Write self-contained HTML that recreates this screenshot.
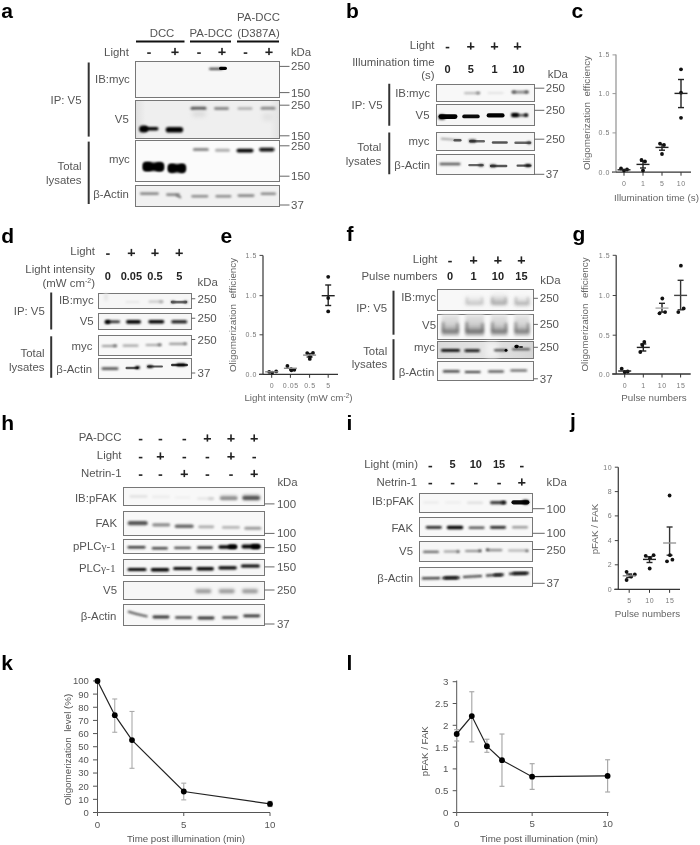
<!DOCTYPE html><html><head><meta charset="utf-8"><style>html,body{margin:0;padding:0;background:#fff;}svg{display:block;filter:blur(0.35px);font-family:"Liberation Sans",sans-serif;}</style></head><body>
<svg width="700" height="845" viewBox="0 0 700 845">
<defs>
<filter id="b3" x="-100%" y="-400%" width="300%" height="900%"><feGaussianBlur stdDeviation="0.3"/></filter>
<filter id="b5" x="-100%" y="-400%" width="300%" height="900%"><feGaussianBlur stdDeviation="0.5"/></filter>
<filter id="b6" x="-100%" y="-400%" width="300%" height="900%"><feGaussianBlur stdDeviation="0.6"/></filter>
<filter id="b8" x="-100%" y="-400%" width="300%" height="900%"><feGaussianBlur stdDeviation="0.8"/></filter>
<filter id="b10" x="-100%" y="-400%" width="300%" height="900%"><feGaussianBlur stdDeviation="1.0"/></filter>
<filter id="b12" x="-100%" y="-400%" width="300%" height="900%"><feGaussianBlur stdDeviation="1.2"/></filter>
<filter id="b15" x="-100%" y="-400%" width="300%" height="900%"><feGaussianBlur stdDeviation="1.5"/></filter>
<filter id="b20" x="-100%" y="-400%" width="300%" height="900%"><feGaussianBlur stdDeviation="2.0"/></filter>
<filter id="b25" x="-100%" y="-400%" width="300%" height="900%"><feGaussianBlur stdDeviation="2.5"/></filter>
<linearGradient id="gv5" x1="0" y1="0" x2="1" y2="0"><stop offset="0" stop-color="#e0e0e0"/><stop offset="0.07" stop-color="#efefef"/><stop offset="0.93" stop-color="#efefef"/><stop offset="1" stop-color="#e2e2e2"/></linearGradient>
<linearGradient id="sm1" x1="0" y1="0" x2="0" y2="1"><stop offset="0" stop-color="#ddd" stop-opacity="0"/><stop offset="0.5" stop-color="#c8c8c8" stop-opacity="0.6"/><stop offset="0.85" stop-color="#999"/><stop offset="1" stop-color="#bbb" stop-opacity="0.3"/></linearGradient>
<linearGradient id="sm2" x1="0" y1="0" x2="0" y2="1"><stop offset="0" stop-color="#e4e4e4"/><stop offset="0.45" stop-color="#cfcfcf"/><stop offset="0.8" stop-color="#8a8a8a"/><stop offset="1" stop-color="#b0b0b0" stop-opacity="0.6"/></linearGradient>
<linearGradient id="gmyc" x1="0" y1="0" x2="1" y2="0"><stop offset="0" stop-color="#dadada"/><stop offset="0.5" stop-color="#e4e4e4"/><stop offset="1" stop-color="#d6d6d6"/></linearGradient>
</defs>
<rect width="700" height="845" fill="#fff"/>
<text x="1.2" y="17.5" text-anchor="start" font-size="21" font-weight="bold" fill="#000">a</text>
<text x="162" y="37" text-anchor="middle" font-size="11.4" fill="#555">DCC</text>
<text x="211" y="37" text-anchor="middle" font-size="11.4" fill="#555">PA-DCC</text>
<text x="258.5" y="21" text-anchor="middle" font-size="11.4" fill="#555">PA-DCC</text>
<text x="258.5" y="37" text-anchor="middle" font-size="11.4" fill="#555">(D387A)</text>
<line x1="136" y1="41.5" x2="184.5" y2="41.5" stroke="#111" stroke-width="2"/>
<line x1="190" y1="41.5" x2="231" y2="41.5" stroke="#111" stroke-width="2"/>
<line x1="237" y1="41.5" x2="279" y2="41.5" stroke="#111" stroke-width="2"/>
<text x="128.8" y="55.7" text-anchor="end" font-size="11.4" fill="#555">Light</text>
<rect x="147.2" y="52.3" width="3.6" height="1.6" fill="#222"/>
<rect x="171.4" y="51.5" width="7.2" height="1.6" fill="#222"/>
<rect x="174.2" y="47.9" width="1.6" height="7.2" fill="#222"/>
<rect x="197.2" y="52.3" width="3.6" height="1.6" fill="#222"/>
<rect x="218.4" y="51.5" width="7.2" height="1.6" fill="#222"/>
<rect x="221.2" y="47.9" width="1.6" height="7.2" fill="#222"/>
<rect x="243.7" y="52.3" width="3.6" height="1.6" fill="#222"/>
<rect x="265.4" y="51.5" width="7.2" height="1.6" fill="#222"/>
<rect x="268.2" y="47.9" width="1.6" height="7.2" fill="#222"/>
<text x="290.9" y="56.3" text-anchor="start" font-size="11.4" fill="#555">kDa</text>
<rect x="135.5" y="61.5" width="144.0" height="36.0" fill="#f7f7f7" stroke="#777" stroke-width="1"/>
<rect x="135.5" y="100.5" width="144.0" height="38.0" fill="url(#gv5)" stroke="#777" stroke-width="1"/>
<rect x="135.5" y="140.5" width="144.0" height="41.0" fill="#fbfbfb" stroke="#777" stroke-width="1"/>
<rect x="135.5" y="185.5" width="144.0" height="21.0" fill="#f1f1f1" stroke="#777" stroke-width="1"/>
<rect x="209.00" y="67.70" width="14" height="2.2" rx="1.10" fill="#444" filter="url(#b8)"/>
<rect x="219.00" y="66.70" width="8" height="3.2" rx="1.60" fill="#000" filter="url(#b6)"/>
<rect x="143.50" y="126.90" width="15" height="3.6" rx="1.80" fill="#000" filter="url(#b8)"/>
<rect x="139.10" y="125.50" width="9" height="7" rx="3.50" fill="#000" filter="url(#b8)"/>
<rect x="165.65" y="127.00" width="17.5" height="5.6" rx="2.80" fill="#000" filter="url(#b8)"/>
<rect x="190.50" y="106.70" width="16" height="3.2" rx="1.60" fill="#555" filter="url(#b10)"/>
<rect x="214.00" y="107.10" width="15" height="2.8" rx="1.40" fill="#888" filter="url(#b10)"/>
<rect x="237.50" y="107.20" width="15" height="2.6" rx="1.30" fill="#aaa" filter="url(#b10)"/>
<rect x="260.50" y="106.80" width="15" height="3" rx="1.50" fill="#888" filter="url(#b10)"/>
<rect x="192.00" y="111.00" width="14" height="6" rx="3.00" fill="#ddd" filter="url(#b20)"/>
<rect x="262.00" y="113.00" width="12" height="8" rx="4.00" fill="#e2e2e2" filter="url(#b20)"/>
<rect x="143.05" y="162.40" width="20.5" height="8.6" rx="3.00" fill="#000" filter="url(#b10)"/>
<rect x="143.00" y="161.90" width="9" height="9.2" rx="3.00" fill="#000" filter="url(#b10)"/>
<rect x="155.25" y="162.50" width="8.5" height="8.8" rx="3.00" fill="#000" filter="url(#b10)"/>
<rect x="168.05" y="164.10" width="17.5" height="8.4" rx="3.00" fill="#000" filter="url(#b10)"/>
<rect x="168.25" y="163.90" width="7.5" height="8.6" rx="3.00" fill="#000" filter="url(#b10)"/>
<rect x="178.50" y="164.10" width="7" height="8.6" rx="3.00" fill="#000" filter="url(#b10)"/>
<rect x="192.90" y="148.10" width="16" height="3" rx="1.50" fill="#8a8a8a" filter="url(#b10)"/>
<rect x="215.00" y="148.70" width="15" height="3" rx="1.50" fill="#aaa" filter="url(#b10)"/>
<rect x="236.50" y="148.70" width="17" height="3.8" rx="1.90" fill="#050505" filter="url(#b8)"/>
<rect x="259.05" y="147.80" width="15.5" height="3.6" rx="1.80" fill="#0a0a0a" filter="url(#b8)"/>
<rect x="139.90" y="192.30" width="19" height="2.6" rx="1.30" fill="#8a8a8a" filter="url(#b10)"/>
<rect x="166.00" y="193.30" width="14" height="2.6" rx="1.30" fill="#8a8a8a" filter="url(#b10)"/>
<rect x="191.30" y="195.00" width="17" height="2.6" rx="1.30" fill="#8a8a8a" filter="url(#b10)"/>
<rect x="215.40" y="195.00" width="16" height="2.6" rx="1.30" fill="#8a8a8a" filter="url(#b10)"/>
<rect x="237.50" y="194.30" width="17" height="2.6" rx="1.30" fill="#888" filter="url(#b10)"/>
<rect x="260.55" y="192.50" width="15.5" height="2.6" rx="1.30" fill="#888" filter="url(#b10)"/>
<path d="M176 195 L181 197.6" stroke="#666" stroke-width="1.8" filter="url(#b8)"/>
<line x1="279.5" y1="66.4" x2="289.5" y2="66.4" stroke="#666" stroke-width="1"/>
<text x="291.0" y="70.4" text-anchor="start" font-size="11.5" fill="#555">250</text>
<line x1="279.5" y1="92.6" x2="289.5" y2="92.6" stroke="#666" stroke-width="1"/>
<text x="291.0" y="96.6" text-anchor="start" font-size="11.5" fill="#555">150</text>
<line x1="279.5" y1="105.2" x2="289.5" y2="105.2" stroke="#666" stroke-width="1"/>
<text x="291.0" y="109.2" text-anchor="start" font-size="11.5" fill="#555">250</text>
<line x1="279.5" y1="135.8" x2="289.5" y2="135.8" stroke="#666" stroke-width="1"/>
<text x="291.0" y="139.8" text-anchor="start" font-size="11.5" fill="#555">150</text>
<line x1="279.5" y1="145.8" x2="289.5" y2="145.8" stroke="#666" stroke-width="1"/>
<text x="291.0" y="149.8" text-anchor="start" font-size="11.5" fill="#555">250</text>
<line x1="279.5" y1="176.2" x2="289.5" y2="176.2" stroke="#666" stroke-width="1"/>
<text x="291.0" y="180.2" text-anchor="start" font-size="11.5" fill="#555">150</text>
<line x1="279.5" y1="205" x2="289.5" y2="205" stroke="#666" stroke-width="1"/>
<text x="291.0" y="209" text-anchor="start" font-size="11.5" fill="#555">37</text>
<text x="129.8" y="82.7" text-anchor="end" font-size="11.4" fill="#555">IB:myc</text>
<text x="128.8" y="122.9" text-anchor="end" font-size="11.4" fill="#555">V5</text>
<text x="129.8" y="163" text-anchor="end" font-size="11.4" fill="#555">myc</text>
<text x="128.8" y="198" text-anchor="end" font-size="11.4" fill="#555">&#946;-Actin</text>
<text x="81.5" y="104" text-anchor="end" font-size="11.4" fill="#555">IP: V5</text>
<text x="81.5" y="170.4" text-anchor="end" font-size="11.4" fill="#555">Total</text>
<text x="81.5" y="183.9" text-anchor="end" font-size="11.4" fill="#555">lysates</text>
<line x1="88.7" y1="62.5" x2="88.7" y2="136.6" stroke="#333" stroke-width="2"/>
<line x1="88.7" y1="141.6" x2="88.7" y2="204" stroke="#333" stroke-width="2"/>
<text x="346" y="18.2" text-anchor="start" font-size="21" font-weight="bold" fill="#000">b</text>
<text x="434.5" y="48.75" text-anchor="end" font-size="11.4" fill="#555">Light</text>
<rect x="445.7" y="46.8" width="3.6" height="1.6" fill="#222"/>
<rect x="467.15" y="46.0" width="7.2" height="1.6" fill="#222"/>
<rect x="469.95" y="42.4" width="1.6" height="7.2" fill="#222"/>
<rect x="490.9" y="46.0" width="7.2" height="1.6" fill="#222"/>
<rect x="493.7" y="42.4" width="1.6" height="7.2" fill="#222"/>
<rect x="513.9" y="46.0" width="7.2" height="1.6" fill="#222"/>
<rect x="516.7" y="42.4" width="1.6" height="7.2" fill="#222"/>
<text x="434.5" y="66.25" text-anchor="end" font-size="11.4" fill="#555">Illumination time</text>
<text x="434.5" y="78.5" text-anchor="end" font-size="11.4" fill="#555">(s)</text>
<text x="447.5" y="72.5" text-anchor="middle" font-size="11" font-weight="bold" fill="#222">0</text>
<text x="470.75" y="72.5" text-anchor="middle" font-size="11" font-weight="bold" fill="#222">5</text>
<text x="494.5" y="72.5" text-anchor="middle" font-size="11" font-weight="bold" fill="#222">1</text>
<text x="518.5" y="72.5" text-anchor="middle" font-size="11" font-weight="bold" fill="#222">10</text>
<text x="547.7" y="77.7" text-anchor="start" font-size="11.4" fill="#555">kDa</text>
<rect x="436.5" y="84.5" width="98.0" height="17.0" fill="#f8f8f8" stroke="#777" stroke-width="1"/>
<rect x="436.5" y="104.5" width="98.0" height="21.0" fill="#f6f6f6" stroke="#777" stroke-width="1"/>
<rect x="436.5" y="132.5" width="98.0" height="18.0" fill="#f6f6f6" stroke="#777" stroke-width="1"/>
<rect x="436.5" y="154.5" width="98.0" height="20.0" fill="#f8f8f8" stroke="#777" stroke-width="1"/>
<rect x="464.00" y="91.90" width="16" height="2.4" rx="1.20" fill="#bbb" filter="url(#b12)"/>
<rect x="476.00" y="91.80" width="4" height="2.4" rx="1.20" fill="#888" filter="url(#b10)"/>
<rect x="487.60" y="92.00" width="16" height="2" rx="1.00" fill="#e2e2e2" filter="url(#b12)"/>
<rect x="511.50" y="90.80" width="17" height="2.6" rx="1.30" fill="#888" filter="url(#b10)"/>
<rect x="512.00" y="90.80" width="4" height="2.4" rx="1.20" fill="#555" filter="url(#b10)"/>
<rect x="524.50" y="90.70" width="4" height="2.6" rx="1.30" fill="#555" filter="url(#b10)"/>
<rect x="438.50" y="114.30" width="19" height="4.6" rx="2.30" fill="#000" filter="url(#b9)"/>
<rect x="438.50" y="114.40" width="7" height="5.2" rx="2.60" fill="#000" filter="url(#b8)"/>
<rect x="462.25" y="114.50" width="17.5" height="3.8" rx="1.90" fill="#0a0a0a" filter="url(#b9)"/>
<rect x="486.60" y="113.30" width="18" height="4.2" rx="2.10" fill="#000" filter="url(#b9)"/>
<rect x="512.00" y="114.00" width="16" height="2.4" rx="1.20" fill="#555" filter="url(#b10)"/>
<rect x="511.00" y="113.10" width="8" height="3.8" rx="1.90" fill="#000" filter="url(#b8)"/>
<rect x="524.00" y="113.50" width="4" height="3" rx="1.50" fill="#000" filter="url(#b8)"/>
<path d="M438 107.5 L532 107.5" stroke="#ddd" stroke-width="2" filter="url(#b10)"/>
<path d="M441 138.6 L461 140.2" stroke="#999" stroke-width="1.6" fill="none" filter="url(#b8)"/>
<rect x="453.50" y="139.00" width="8" height="2.4" rx="1.20" fill="#555" filter="url(#b9)"/>
<rect x="469.00" y="140.10" width="16" height="2.4" rx="1.20" fill="#666" filter="url(#b9)"/>
<rect x="469.00" y="139.60" width="7" height="2.8" rx="1.40" fill="#222" filter="url(#b8)"/>
<rect x="491.80" y="141.20" width="16" height="2.6" rx="1.30" fill="#555" filter="url(#b9)"/>
<rect x="514.30" y="141.50" width="17" height="2.6" rx="1.30" fill="#666" filter="url(#b9)"/>
<rect x="527.00" y="141.40" width="4" height="2.8" rx="1.40" fill="#333" filter="url(#b8)"/>
<rect x="439.50" y="162.80" width="21" height="2.4" rx="1.20" fill="#555" filter="url(#b10)"/>
<rect x="468.25" y="164.10" width="15.5" height="2.2" rx="1.10" fill="#666" filter="url(#b9)"/>
<rect x="478.50" y="164.10" width="5" height="2.4" rx="1.20" fill="#333" filter="url(#b8)"/>
<rect x="489.85" y="164.80" width="17.5" height="2.4" rx="1.20" fill="#555" filter="url(#b9)"/>
<rect x="490.00" y="164.40" width="6" height="2.8" rx="1.40" fill="#222" filter="url(#b8)"/>
<rect x="516.50" y="164.60" width="15" height="2.2" rx="1.10" fill="#555" filter="url(#b9)"/>
<rect x="525.00" y="164.10" width="6" height="2.8" rx="1.40" fill="#111" filter="url(#b8)"/>
<line x1="534.3" y1="88.2" x2="544.3" y2="88.2" stroke="#666" stroke-width="1"/>
<text x="545.8" y="92.2" text-anchor="start" font-size="11.5" fill="#555">250</text>
<line x1="534.3" y1="110.3" x2="544.3" y2="110.3" stroke="#666" stroke-width="1"/>
<text x="545.8" y="114.3" text-anchor="start" font-size="11.5" fill="#555">250</text>
<line x1="534.3" y1="139.2" x2="544.3" y2="139.2" stroke="#666" stroke-width="1"/>
<text x="545.8" y="143.2" text-anchor="start" font-size="11.5" fill="#555">250</text>
<line x1="534.3" y1="174.3" x2="544.3" y2="174.3" stroke="#666" stroke-width="1"/>
<text x="545.8" y="178.3" text-anchor="start" font-size="11.5" fill="#555">37</text>
<text x="430" y="97" text-anchor="end" font-size="11.4" fill="#555">IB:myc</text>
<text x="429.5" y="119.25" text-anchor="end" font-size="11.4" fill="#555">V5</text>
<text x="382.5" y="108.75" text-anchor="end" font-size="11.4" fill="#555">IP: V5</text>
<text x="429.5" y="145" text-anchor="end" font-size="11.4" fill="#555">myc</text>
<text x="430" y="168.75" text-anchor="end" font-size="11.4" fill="#555">&#946;-Actin</text>
<text x="381.25" y="151.25" text-anchor="end" font-size="11.4" fill="#555">Total</text>
<text x="381.25" y="164.5" text-anchor="end" font-size="11.4" fill="#555">lysates</text>
<line x1="389.25" y1="83.75" x2="389.25" y2="125.75" stroke="#333" stroke-width="2"/>
<line x1="389.25" y1="132.5" x2="389.25" y2="174.25" stroke="#333" stroke-width="2"/>
<text x="571.5" y="17.7" text-anchor="start" font-size="21" font-weight="bold" fill="#000">c</text>
<line x1="616" y1="54.5" x2="616" y2="172.2" stroke="#999" stroke-width="1.3"/>
<line x1="612" y1="172.2" x2="691" y2="172.2" stroke="#333" stroke-width="1.3"/>
<line x1="612.5" y1="54.9" x2="616" y2="54.9" stroke="#999" stroke-width="1"/>
<text x="610" y="57.4" text-anchor="end" font-size="7" fill="#7a7a7a" letter-spacing="0.6">1.5</text>
<line x1="612.5" y1="93.6" x2="616" y2="93.6" stroke="#999" stroke-width="1"/>
<text x="610" y="96.1" text-anchor="end" font-size="7" fill="#7a7a7a" letter-spacing="0.6">1.0</text>
<line x1="612.5" y1="132.9" x2="616" y2="132.9" stroke="#999" stroke-width="1"/>
<text x="610" y="135.4" text-anchor="end" font-size="7" fill="#7a7a7a" letter-spacing="0.6">0.5</text>
<line x1="612.5" y1="172.2" x2="616" y2="172.2" stroke="#999" stroke-width="1"/>
<text x="610" y="174.7" text-anchor="end" font-size="7" fill="#7a7a7a" letter-spacing="0.6">0.0</text>
<line x1="624" y1="172.2" x2="624" y2="175.7" stroke="#333" stroke-width="1"/>
<text x="624.3" y="186.2" text-anchor="middle" font-size="7" fill="#7a7a7a" letter-spacing="0.6">0</text>
<line x1="643" y1="172.2" x2="643" y2="175.7" stroke="#333" stroke-width="1"/>
<text x="643.3" y="186.2" text-anchor="middle" font-size="7" fill="#7a7a7a" letter-spacing="0.6">1</text>
<line x1="662" y1="172.2" x2="662" y2="175.7" stroke="#333" stroke-width="1"/>
<text x="662.3" y="186.2" text-anchor="middle" font-size="7" fill="#7a7a7a" letter-spacing="0.6">5</text>
<line x1="681" y1="172.2" x2="681" y2="175.7" stroke="#333" stroke-width="1"/>
<text x="681.3" y="186.2" text-anchor="middle" font-size="7" fill="#7a7a7a" letter-spacing="0.6">10</text>
<text x="590" y="113" text-anchor="middle" font-size="9.8" fill="#666" transform="rotate(-90 590 113)">Oligomerization&#160;&#160;efficiency</text>
<text x="656.5" y="201" text-anchor="middle" font-size="9.8" fill="#666">Illumination time (s)</text>
<circle cx="621" cy="168.5" r="1.9" fill="#111"/>
<circle cx="624" cy="170.5" r="1.9" fill="#111"/>
<circle cx="627" cy="169.5" r="1.9" fill="#111"/>
<line x1="617.5" y1="169.8" x2="630.5" y2="169.8" stroke="#222" stroke-width="1.4"/>
<line x1="643" y1="161" x2="643" y2="168" stroke="#222" stroke-width="1.4"/>
<line x1="640" y1="161" x2="646" y2="161" stroke="#222" stroke-width="1.4"/>
<line x1="640" y1="168" x2="646" y2="168" stroke="#222" stroke-width="1.4"/>
<circle cx="641.5" cy="160" r="1.9" fill="#111"/>
<circle cx="645" cy="161.5" r="1.9" fill="#111"/>
<circle cx="643" cy="170.5" r="1.9" fill="#111"/>
<line x1="636.5" y1="164.4" x2="649.5" y2="164.4" stroke="#222" stroke-width="1.4"/>
<line x1="662" y1="144.5" x2="662" y2="150.2" stroke="#222" stroke-width="1.4"/>
<line x1="659" y1="144.5" x2="665" y2="144.5" stroke="#222" stroke-width="1.4"/>
<line x1="659" y1="150.2" x2="665" y2="150.2" stroke="#222" stroke-width="1.4"/>
<circle cx="660" cy="143.6" r="1.9" fill="#111"/>
<circle cx="664" cy="145" r="1.9" fill="#111"/>
<circle cx="662" cy="154" r="1.9" fill="#111"/>
<line x1="655.5" y1="147.4" x2="668.5" y2="147.4" stroke="#222" stroke-width="1.4"/>
<line x1="681" y1="79.5" x2="681" y2="107.6" stroke="#222" stroke-width="1.4"/>
<line x1="678" y1="79.5" x2="684" y2="79.5" stroke="#222" stroke-width="1.4"/>
<line x1="678" y1="107.6" x2="684" y2="107.6" stroke="#222" stroke-width="1.4"/>
<circle cx="681" cy="69.3" r="1.9" fill="#111"/>
<circle cx="681" cy="92.7" r="1.9" fill="#111"/>
<circle cx="681" cy="117.8" r="1.9" fill="#111"/>
<line x1="674.5" y1="93.4" x2="687.5" y2="93.4" stroke="#222" stroke-width="1.4"/>
<text x="1.2" y="242.5" text-anchor="start" font-size="21" font-weight="bold" fill="#000">d</text>
<text x="95" y="255.2" text-anchor="end" font-size="11.4" fill="#555">Light</text>
<rect x="106.10000000000001" y="253.3" width="3.6" height="1.6" fill="#222"/>
<rect x="127.80000000000001" y="252.5" width="7.2" height="1.6" fill="#222"/>
<rect x="130.6" y="248.9" width="1.6" height="7.2" fill="#222"/>
<rect x="151.4" y="252.5" width="7.2" height="1.6" fill="#222"/>
<rect x="154.2" y="248.9" width="1.6" height="7.2" fill="#222"/>
<rect x="175.6" y="252.5" width="7.2" height="1.6" fill="#222"/>
<rect x="178.39999999999998" y="248.9" width="1.6" height="7.2" fill="#222"/>
<text x="95" y="272.5" text-anchor="end" font-size="11.4" fill="#555">Light intensity</text>
<text x="95" y="286.6" text-anchor="end" font-size="11.4" fill="#555">(mW cm<tspan font-size="7" dy="-4">-2</tspan><tspan dy="4">)</tspan></text>
<text x="107.9" y="280.2" text-anchor="middle" font-size="11" font-weight="bold" fill="#222">0</text>
<text x="131.4" y="280.2" text-anchor="middle" font-size="11" font-weight="bold" fill="#222">0.05</text>
<text x="155" y="280.2" text-anchor="middle" font-size="11" font-weight="bold" fill="#222">0.5</text>
<text x="179.2" y="280.2" text-anchor="middle" font-size="11" font-weight="bold" fill="#222">5</text>
<text x="197.5" y="285.7" text-anchor="start" font-size="11.4" fill="#555">kDa</text>
<rect x="98.5" y="293.5" width="93.0" height="15.0" fill="#f6f6f6" stroke="#777" stroke-width="1"/>
<rect x="98.5" y="313.5" width="93.0" height="16.0" fill="#f6f6f6" stroke="#777" stroke-width="1"/>
<rect x="98.5" y="335.5" width="93.0" height="20.0" fill="#f8f8f8" stroke="#777" stroke-width="1"/>
<rect x="98.5" y="358.5" width="93.0" height="20.0" fill="#f8f8f8" stroke="#777" stroke-width="1"/>
<rect x="104.00" y="293.00" width="4" height="8" rx="2.00" fill="#e6e6e6" filter="url(#b15)"/>
<rect x="125.50" y="300.90" width="14" height="2.2" rx="1.10" fill="#e6e6e6" filter="url(#b12)"/>
<rect x="148.50" y="300.60" width="15" height="2.2" rx="1.10" fill="#c8c8c8" filter="url(#b10)"/>
<rect x="159.00" y="300.50" width="4" height="2.4" rx="1.20" fill="#aaa" filter="url(#b10)"/>
<rect x="170.75" y="300.80" width="16.5" height="2.6" rx="1.30" fill="#666" filter="url(#b9)"/>
<rect x="171.00" y="300.70" width="4" height="2.6" rx="1.30" fill="#444" filter="url(#b8)"/>
<rect x="183.50" y="300.70" width="4" height="2.6" rx="1.30" fill="#444" filter="url(#b8)"/>
<rect x="106.00" y="320.50" width="14" height="2.6" rx="1.30" fill="#222" filter="url(#b8)"/>
<rect x="104.50" y="319.90" width="6" height="4.2" rx="2.10" fill="#000" filter="url(#b8)"/>
<rect x="126.00" y="319.90" width="15" height="3.8" rx="1.90" fill="#000" filter="url(#b8)"/>
<rect x="148.30" y="320.10" width="16" height="3.4" rx="1.70" fill="#000" filter="url(#b8)"/>
<rect x="171.20" y="320.30" width="16" height="3" rx="1.50" fill="#111" filter="url(#b8)"/>
<rect x="101.70" y="344.90" width="15" height="2.2" rx="1.10" fill="#999" filter="url(#b10)"/>
<rect x="113.00" y="344.60" width="4" height="2.4" rx="1.20" fill="#777" filter="url(#b10)"/>
<rect x="122.60" y="344.60" width="16" height="2.2" rx="1.10" fill="#a4a4a4" filter="url(#b10)"/>
<rect x="145.50" y="343.90" width="16" height="2.2" rx="1.10" fill="#a4a4a4" filter="url(#b10)"/>
<rect x="157.50" y="343.60" width="4" height="2.4" rx="1.20" fill="#777" filter="url(#b10)"/>
<rect x="169.00" y="342.80" width="18" height="2.2" rx="1.10" fill="#999" filter="url(#b10)"/>
<rect x="183.50" y="342.40" width="3" height="2.4" rx="1.20" fill="#777" filter="url(#b10)"/>
<rect x="101.50" y="367.30" width="17" height="2.6" rx="1.30" fill="#555" filter="url(#b10)"/>
<rect x="125.50" y="366.80" width="13" height="2.4" rx="1.20" fill="#555" filter="url(#b9)"/>
<rect x="135.00" y="366.10" width="5" height="3" rx="1.50" fill="#000" filter="url(#b8)"/>
<rect x="147.00" y="365.40" width="16" height="2.2" rx="1.10" fill="#555" filter="url(#b9)"/>
<rect x="147.00" y="365.30" width="6" height="2.8" rx="1.40" fill="#111" filter="url(#b8)"/>
<rect x="171.00" y="363.70" width="17" height="2.6" rx="1.30" fill="#333" filter="url(#b9)"/>
<rect x="176.50" y="363.50" width="9" height="2.8" rx="1.40" fill="#000" filter="url(#b8)"/>
<line x1="191.25" y1="298.75" x2="195.25" y2="298.75" stroke="#666" stroke-width="1"/>
<text x="197.5" y="302.75" text-anchor="start" font-size="11.5" fill="#555">250</text>
<line x1="191.25" y1="318.25" x2="195.25" y2="318.25" stroke="#666" stroke-width="1"/>
<text x="197.5" y="322.25" text-anchor="start" font-size="11.5" fill="#555">250</text>
<line x1="191.25" y1="339.5" x2="195.25" y2="339.5" stroke="#666" stroke-width="1"/>
<text x="197.5" y="343.5" text-anchor="start" font-size="11.5" fill="#555">250</text>
<line x1="191.25" y1="373" x2="195.25" y2="373" stroke="#666" stroke-width="1"/>
<text x="197.5" y="377" text-anchor="start" font-size="11.5" fill="#555">37</text>
<text x="93.7" y="304" text-anchor="end" font-size="11.4" fill="#555">IB:myc</text>
<text x="93.7" y="325.3" text-anchor="end" font-size="11.4" fill="#555">V5</text>
<text x="44.8" y="314.6" text-anchor="end" font-size="11.4" fill="#555">IP: V5</text>
<text x="92.5" y="350" text-anchor="end" font-size="11.4" fill="#555">myc</text>
<text x="92" y="372.5" text-anchor="end" font-size="11.4" fill="#555">&#946;-Actin</text>
<text x="44.5" y="357" text-anchor="end" font-size="11.4" fill="#555">Total</text>
<text x="44.5" y="370.9" text-anchor="end" font-size="11.4" fill="#555">lysates</text>
<line x1="51.2" y1="292.5" x2="51.2" y2="329.5" stroke="#333" stroke-width="2"/>
<line x1="51.2" y1="336.3" x2="51.2" y2="377.8" stroke="#333" stroke-width="2"/>
<text x="220.5" y="242.9" text-anchor="start" font-size="21" font-weight="bold" fill="#000">e</text>
<line x1="263" y1="255.4" x2="263" y2="374.3" stroke="#444" stroke-width="1.3"/>
<line x1="259" y1="374.3" x2="338" y2="374.3" stroke="#333" stroke-width="1.3"/>
<line x1="259.5" y1="255.4" x2="263" y2="255.4" stroke="#444" stroke-width="1"/>
<text x="257" y="257.9" text-anchor="end" font-size="7" fill="#7a7a7a" letter-spacing="0.6">1.5</text>
<line x1="259.5" y1="295.7" x2="263" y2="295.7" stroke="#444" stroke-width="1"/>
<text x="257" y="298.2" text-anchor="end" font-size="7" fill="#7a7a7a" letter-spacing="0.6">1.0</text>
<line x1="259.5" y1="334.8" x2="263" y2="334.8" stroke="#444" stroke-width="1"/>
<text x="257" y="337.3" text-anchor="end" font-size="7" fill="#7a7a7a" letter-spacing="0.6">0.5</text>
<line x1="259.5" y1="374.3" x2="263" y2="374.3" stroke="#444" stroke-width="1"/>
<text x="257" y="376.8" text-anchor="end" font-size="7" fill="#7a7a7a" letter-spacing="0.6">0.0</text>
<line x1="271.7" y1="374.3" x2="271.7" y2="377.8" stroke="#333" stroke-width="1"/>
<text x="272.0" y="388.3" text-anchor="middle" font-size="7" fill="#7a7a7a" letter-spacing="0.6">0</text>
<line x1="290.4" y1="374.3" x2="290.4" y2="377.8" stroke="#333" stroke-width="1"/>
<text x="290.7" y="388.3" text-anchor="middle" font-size="7" fill="#7a7a7a" letter-spacing="0.6">0.05</text>
<line x1="309.6" y1="374.3" x2="309.6" y2="377.8" stroke="#333" stroke-width="1"/>
<text x="309.90000000000003" y="388.3" text-anchor="middle" font-size="7" fill="#7a7a7a" letter-spacing="0.6">0.5</text>
<line x1="328.2" y1="374.3" x2="328.2" y2="377.8" stroke="#333" stroke-width="1"/>
<text x="328.5" y="388.3" text-anchor="middle" font-size="7" fill="#7a7a7a" letter-spacing="0.6">5</text>
<text x="236" y="315" text-anchor="middle" font-size="9.8" fill="#666" transform="rotate(-90 236 315)">Oligomerization&#160;&#160;efficiency</text>
<text x="298.5" y="401" text-anchor="middle" font-size="9.8" fill="#666">Light intensity (mW cm<tspan font-size="6.5" dy="-3.5">-2</tspan><tspan dy="3.5">)</tspan></text>
<circle cx="269.2" cy="371.8" r="1.9" fill="#111"/>
<circle cx="272.2" cy="372.6" r="1.9" fill="#111"/>
<circle cx="276.2" cy="371.4" r="1.9" fill="#111"/>
<line x1="265.2" y1="371.8" x2="278.2" y2="371.8" stroke="#888" stroke-width="1.4"/>
<circle cx="287.4" cy="366" r="1.9" fill="#111"/>
<circle cx="291.09999999999997" cy="369.2" r="1.9" fill="#111"/>
<circle cx="294.29999999999995" cy="369.8" r="1.9" fill="#111"/>
<circle cx="291.4" cy="370.3" r="1.9" fill="#111"/>
<line x1="283.9" y1="368.3" x2="296.9" y2="368.3" stroke="#888" stroke-width="1.4"/>
<line x1="309.6" y1="353.5" x2="309.6" y2="357" stroke="#222" stroke-width="1.4"/>
<line x1="306.6" y1="353.5" x2="312.6" y2="353.5" stroke="#222" stroke-width="1.4"/>
<line x1="306.6" y1="357" x2="312.6" y2="357" stroke="#222" stroke-width="1.4"/>
<circle cx="307.20000000000005" cy="353.1" r="1.9" fill="#111"/>
<circle cx="313.0" cy="352.9" r="1.9" fill="#111"/>
<circle cx="309.8" cy="358.9" r="1.9" fill="#111"/>
<circle cx="310.1" cy="356.3" r="1.9" fill="#111"/>
<line x1="303.1" y1="355.1" x2="316.1" y2="355.1" stroke="#888" stroke-width="1.4"/>
<line x1="328.2" y1="285" x2="328.2" y2="305.5" stroke="#222" stroke-width="1.4"/>
<line x1="325.2" y1="285" x2="331.2" y2="285" stroke="#222" stroke-width="1.4"/>
<line x1="325.2" y1="305.5" x2="331.2" y2="305.5" stroke="#222" stroke-width="1.4"/>
<circle cx="328.2" cy="276.8" r="1.9" fill="#111"/>
<circle cx="328.2" cy="298" r="1.9" fill="#111"/>
<circle cx="328.2" cy="311.4" r="1.9" fill="#111"/>
<line x1="321.7" y1="295.7" x2="334.7" y2="295.7" stroke="#222" stroke-width="1.4"/>
<text x="346.5" y="241" text-anchor="start" font-size="21" font-weight="bold" fill="#000">f</text>
<text x="437.5" y="263" text-anchor="end" font-size="11.4" fill="#555">Light</text>
<rect x="448.2" y="260.8" width="3.6" height="1.6" fill="#222"/>
<rect x="470.0" y="260.0" width="7.2" height="1.6" fill="#222"/>
<rect x="472.8" y="256.4" width="1.6" height="7.2" fill="#222"/>
<rect x="494.29999999999995" y="260.0" width="7.2" height="1.6" fill="#222"/>
<rect x="497.09999999999997" y="256.4" width="1.6" height="7.2" fill="#222"/>
<rect x="517.8" y="260.0" width="7.2" height="1.6" fill="#222"/>
<rect x="520.6" y="256.4" width="1.6" height="7.2" fill="#222"/>
<text x="437.5" y="280.3" text-anchor="end" font-size="11.4" fill="#555">Pulse numbers</text>
<text x="450" y="280.3" text-anchor="middle" font-size="11" font-weight="bold" fill="#222">0</text>
<text x="473.6" y="280.3" text-anchor="middle" font-size="11" font-weight="bold" fill="#222">1</text>
<text x="497.9" y="280.3" text-anchor="middle" font-size="11" font-weight="bold" fill="#222">10</text>
<text x="521.4" y="280.3" text-anchor="middle" font-size="11" font-weight="bold" fill="#222">15</text>
<text x="540.3" y="283.5" text-anchor="start" font-size="11.4" fill="#555">kDa</text>
<rect x="437.5" y="289.5" width="96.0" height="21.0" fill="#f8f8f8" stroke="#777" stroke-width="1"/>
<rect x="437.5" y="314.5" width="96.0" height="25.0" fill="#f8f8f8" stroke="#777" stroke-width="1"/>
<rect x="437.5" y="341.5" width="96.0" height="17.0" fill="url(#gmyc)" stroke="#777" stroke-width="1"/>
<rect x="437.5" y="361.5" width="96.0" height="19.0" fill="#f8f8f8" stroke="#777" stroke-width="1"/>
<rect x="465.5" y="294.5" width="18.0" height="10.5" fill="url(#sm1)" filter="url(#b20)" opacity="0.55"/>
<rect x="491" y="291.5" width="16" height="13.5" fill="url(#sm1)" filter="url(#b20)" opacity="0.85"/>
<rect x="514.5" y="294.5" width="15.0" height="11.5" fill="url(#sm1)" filter="url(#b20)" opacity="0.7"/>
<path d="M467.0 297 L467.0 303.5 L482.0 303.5 L482.0 297" stroke="#777" stroke-width="1.6" fill="none" filter="url(#b15)" opacity="0.35"/>
<path d="M492.5 297 L492.5 303.5 L505.5 303.5 L505.5 297" stroke="#777" stroke-width="1.6" fill="none" filter="url(#b15)" opacity="0.6"/>
<path d="M516.0 297 L516.0 303.5 L528.0 303.5 L528.0 297" stroke="#777" stroke-width="1.6" fill="none" filter="url(#b15)" opacity="0.5"/>
<rect x="441.7" y="314.5" width="17.30000000000001" height="21.5" fill="url(#sm2)" filter="url(#b15)" opacity="0.9"/>
<path d="M443.2 322 L443.2 331.5 L457.5 331.5 L457.5 323" stroke="#555" stroke-width="2" fill="none" filter="url(#b15)" opacity="0.63"/>
<rect x="465.3" y="314.5" width="18.69999999999999" height="21.5" fill="url(#sm2)" filter="url(#b15)" opacity="1"/>
<path d="M466.8 322 L466.8 331.5 L482.5 331.5 L482.5 323" stroke="#555" stroke-width="2" fill="none" filter="url(#b15)" opacity="0.7"/>
<rect x="491" y="314.5" width="16.399999999999977" height="21.5" fill="url(#sm2)" filter="url(#b15)" opacity="0.9"/>
<path d="M492.5 322 L492.5 331.5 L505.9 331.5 L505.9 323" stroke="#555" stroke-width="2" fill="none" filter="url(#b15)" opacity="0.63"/>
<rect x="514.3" y="314.5" width="15.300000000000068" height="21.5" fill="url(#sm2)" filter="url(#b15)" opacity="0.85"/>
<path d="M515.8 322 L515.8 331.5 L528.1 331.5 L528.1 323" stroke="#555" stroke-width="2" fill="none" filter="url(#b15)" opacity="0.595"/>
<rect x="486" y="342.5" width="12" height="15" fill="#f0f0f0" filter="url(#b20)"/>
<rect x="441.00" y="349.00" width="19" height="2.8" rx="1.40" fill="#000" filter="url(#b8)"/>
<rect x="464.45" y="349.30" width="15.5" height="2.6" rx="1.30" fill="#111" filter="url(#b8)"/>
<rect x="494.00" y="349.30" width="13" height="2" rx="1.00" fill="#333" filter="url(#b8)"/>
<rect x="504.50" y="348.80" width="3" height="3" rx="1.50" fill="#000" filter="url(#b6)"/>
<rect x="512.00" y="348.30" width="18" height="2" rx="1.00" fill="#444" filter="url(#b8)"/>
<rect x="514.35" y="344.75" width="4.5" height="3.5" rx="1.75" fill="#000" filter="url(#b7)"/>
<rect x="519.00" y="346.00" width="4" height="2" rx="1.00" fill="#333" filter="url(#b7)"/>
<rect x="442.80" y="370.30" width="17" height="2.2" rx="1.10" fill="#333" filter="url(#b8)"/>
<rect x="464.70" y="370.90" width="16" height="2" rx="1.00" fill="#333" filter="url(#b8)"/>
<rect x="488.00" y="370.40" width="16" height="2" rx="1.00" fill="#3a3a3a" filter="url(#b8)"/>
<rect x="510.20" y="369.50" width="17" height="2" rx="1.00" fill="#555" filter="url(#b8)"/>
<line x1="533.4" y1="298.3" x2="537.9" y2="298.3" stroke="#666" stroke-width="1"/>
<text x="539.8" y="302.3" text-anchor="start" font-size="11.5" fill="#555">250</text>
<line x1="533.4" y1="324.4" x2="537.9" y2="324.4" stroke="#666" stroke-width="1"/>
<text x="539.8" y="328.4" text-anchor="start" font-size="11.5" fill="#555">250</text>
<line x1="533.4" y1="347.3" x2="537.9" y2="347.3" stroke="#666" stroke-width="1"/>
<text x="539.8" y="351.3" text-anchor="start" font-size="11.5" fill="#555">250</text>
<line x1="533.4" y1="378.8" x2="537.9" y2="378.8" stroke="#666" stroke-width="1"/>
<text x="539.8" y="382.8" text-anchor="start" font-size="11.5" fill="#555">37</text>
<text x="436" y="300.8" text-anchor="end" font-size="11.4" fill="#555">IB:myc</text>
<text x="436" y="329" text-anchor="end" font-size="11.4" fill="#555">V5</text>
<text x="387.2" y="312.4" text-anchor="end" font-size="11.4" fill="#555">IP: V5</text>
<text x="435" y="351" text-anchor="end" font-size="11.4" fill="#555">myc</text>
<text x="387.2" y="355" text-anchor="end" font-size="11.4" fill="#555">Total</text>
<text x="387.2" y="368.4" text-anchor="end" font-size="11.4" fill="#555">lysates</text>
<text x="434.3" y="376.3" text-anchor="end" font-size="11.4" fill="#555">&#946;-Actin</text>
<line x1="393.5" y1="290.7" x2="393.5" y2="334.7" stroke="#333" stroke-width="2"/>
<line x1="393.5" y1="339.2" x2="393.5" y2="380" stroke="#333" stroke-width="2"/>
<text x="572.5" y="241" text-anchor="start" font-size="21" font-weight="bold" fill="#000">g</text>
<line x1="616.2" y1="255.3" x2="616.2" y2="374" stroke="#444" stroke-width="1.3"/>
<line x1="612.2" y1="374" x2="690.7" y2="374" stroke="#333" stroke-width="1.3"/>
<line x1="612.7" y1="255.3" x2="616.2" y2="255.3" stroke="#444" stroke-width="1"/>
<text x="610.2" y="257.8" text-anchor="end" font-size="7" fill="#7a7a7a" letter-spacing="0.6">1.5</text>
<line x1="612.7" y1="295.5" x2="616.2" y2="295.5" stroke="#444" stroke-width="1"/>
<text x="610.2" y="298.0" text-anchor="end" font-size="7" fill="#7a7a7a" letter-spacing="0.6">1.0</text>
<line x1="612.7" y1="335.2" x2="616.2" y2="335.2" stroke="#444" stroke-width="1"/>
<text x="610.2" y="337.7" text-anchor="end" font-size="7" fill="#7a7a7a" letter-spacing="0.6">0.5</text>
<line x1="612.7" y1="374" x2="616.2" y2="374" stroke="#444" stroke-width="1"/>
<text x="610.2" y="376.5" text-anchor="end" font-size="7" fill="#7a7a7a" letter-spacing="0.6">0.0</text>
<line x1="624.7" y1="374" x2="624.7" y2="377.5" stroke="#333" stroke-width="1"/>
<text x="625.0" y="388" text-anchor="middle" font-size="7" fill="#7a7a7a" letter-spacing="0.6">0</text>
<line x1="643.3" y1="374" x2="643.3" y2="377.5" stroke="#333" stroke-width="1"/>
<text x="643.5999999999999" y="388" text-anchor="middle" font-size="7" fill="#7a7a7a" letter-spacing="0.6">1</text>
<line x1="662" y1="374" x2="662" y2="377.5" stroke="#333" stroke-width="1"/>
<text x="662.3" y="388" text-anchor="middle" font-size="7" fill="#7a7a7a" letter-spacing="0.6">10</text>
<line x1="680.6" y1="374" x2="680.6" y2="377.5" stroke="#333" stroke-width="1"/>
<text x="680.9" y="388" text-anchor="middle" font-size="7" fill="#7a7a7a" letter-spacing="0.6">15</text>
<text x="588.2" y="314.5" text-anchor="middle" font-size="9.8" fill="#666" transform="rotate(-90 588.2 314.5)">Oligomerization&#160;&#160;efficiency</text>
<text x="654" y="401" text-anchor="middle" font-size="9.8" fill="#666">Pulse numbers</text>
<circle cx="621.7" cy="368.7" r="1.9" fill="#111"/>
<circle cx="624.7" cy="372" r="1.9" fill="#111"/>
<circle cx="627.7" cy="371.5" r="1.9" fill="#111"/>
<line x1="618.2" y1="371" x2="631.2" y2="371" stroke="#222" stroke-width="1.4"/>
<line x1="643.3" y1="344" x2="643.3" y2="351" stroke="#222" stroke-width="1.4"/>
<line x1="640.3" y1="344" x2="646.3" y2="344" stroke="#222" stroke-width="1.4"/>
<line x1="640.3" y1="351" x2="646.3" y2="351" stroke="#222" stroke-width="1.4"/>
<circle cx="644.3" cy="342" r="1.9" fill="#111"/>
<circle cx="642.3" cy="345" r="1.9" fill="#111"/>
<circle cx="640.3" cy="352" r="1.9" fill="#111"/>
<line x1="636.8" y1="347.4" x2="649.8" y2="347.4" stroke="#222" stroke-width="1.4"/>
<line x1="662" y1="303.3" x2="662" y2="312.1" stroke="#222" stroke-width="1.4"/>
<line x1="659" y1="303.3" x2="665" y2="303.3" stroke="#222" stroke-width="1.4"/>
<line x1="659" y1="312.1" x2="665" y2="312.1" stroke="#222" stroke-width="1.4"/>
<circle cx="662.3" cy="298.5" r="1.9" fill="#111"/>
<circle cx="659.5" cy="313.3" r="1.9" fill="#111"/>
<circle cx="665.1" cy="312.1" r="1.9" fill="#111"/>
<line x1="655.5" y1="308.1" x2="668.5" y2="308.1" stroke="#aaa" stroke-width="1.4"/>
<line x1="680.6" y1="280.3" x2="680.6" y2="309.8" stroke="#333" stroke-width="1.4"/>
<line x1="677.6" y1="280.3" x2="683.6" y2="280.3" stroke="#333" stroke-width="1.4"/>
<line x1="677.6" y1="309.8" x2="683.6" y2="309.8" stroke="#333" stroke-width="1.4"/>
<circle cx="680.9" cy="265.7" r="1.9" fill="#111"/>
<circle cx="683.7" cy="308.4" r="1.9" fill="#111"/>
<circle cx="678.3000000000001" cy="312.1" r="1.9" fill="#111"/>
<line x1="674.1" y1="295.4" x2="687.1" y2="295.4" stroke="#444" stroke-width="1.4"/>
<text x="1.2" y="429.5" text-anchor="start" font-size="21" font-weight="bold" fill="#000">h</text>
<text x="121.5" y="440.5" text-anchor="end" font-size="11.4" fill="#555">PA-DCC</text>
<text x="121.5" y="458.75" text-anchor="end" font-size="11.4" fill="#555">Light</text>
<text x="121.5" y="477" text-anchor="end" font-size="11.4" fill="#555">Netrin-1</text>
<rect x="138.79999999999998" y="438.8" width="3.6" height="1.6" fill="#222"/>
<rect x="158.6" y="438.8" width="3.6" height="1.6" fill="#222"/>
<rect x="182.5" y="438.8" width="3.6" height="1.6" fill="#222"/>
<rect x="203.8" y="438.0" width="7.2" height="1.6" fill="#222"/>
<rect x="206.6" y="434.4" width="1.6" height="7.2" fill="#222"/>
<rect x="227.4" y="438.0" width="7.2" height="1.6" fill="#222"/>
<rect x="230.2" y="434.4" width="1.6" height="7.2" fill="#222"/>
<rect x="250.6" y="438.0" width="7.2" height="1.6" fill="#222"/>
<rect x="253.39999999999998" y="434.4" width="1.6" height="7.2" fill="#222"/>
<rect x="138.79999999999998" y="456.8" width="3.6" height="1.6" fill="#222"/>
<rect x="156.8" y="456.0" width="7.2" height="1.6" fill="#222"/>
<rect x="159.6" y="452.4" width="1.6" height="7.2" fill="#222"/>
<rect x="182.5" y="456.8" width="3.6" height="1.6" fill="#222"/>
<rect x="205.6" y="456.8" width="3.6" height="1.6" fill="#222"/>
<rect x="227.4" y="456.0" width="7.2" height="1.6" fill="#222"/>
<rect x="230.2" y="452.4" width="1.6" height="7.2" fill="#222"/>
<rect x="252.39999999999998" y="456.8" width="3.6" height="1.6" fill="#222"/>
<rect x="138.79999999999998" y="474.3" width="3.6" height="1.6" fill="#222"/>
<rect x="158.6" y="474.3" width="3.6" height="1.6" fill="#222"/>
<rect x="180.70000000000002" y="473.5" width="7.2" height="1.6" fill="#222"/>
<rect x="183.5" y="469.9" width="1.6" height="7.2" fill="#222"/>
<rect x="205.6" y="474.3" width="3.6" height="1.6" fill="#222"/>
<rect x="229.2" y="474.3" width="3.6" height="1.6" fill="#222"/>
<rect x="250.6" y="473.5" width="7.2" height="1.6" fill="#222"/>
<rect x="253.39999999999998" y="469.9" width="1.6" height="7.2" fill="#222"/>
<text x="277.4" y="486.3" text-anchor="start" font-size="11.4" fill="#555">kDa</text>
<rect x="123.5" y="487.5" width="141.0" height="18.0" fill="#f8f8f8" stroke="#777" stroke-width="1"/>
<rect x="123.5" y="511.5" width="141.0" height="24.0" fill="#f8f8f8" stroke="#777" stroke-width="1"/>
<rect x="123.5" y="539.5" width="141.0" height="14.0" fill="#f8f8f8" stroke="#777" stroke-width="1"/>
<rect x="123.5" y="559.5" width="141.0" height="16.0" fill="#f6f6f6" stroke="#777" stroke-width="1"/>
<rect x="123.5" y="581.5" width="141.0" height="18.0" fill="#f6f6f6" stroke="#777" stroke-width="1"/>
<rect x="123.5" y="604.5" width="141.0" height="21.0" fill="#f8f8f8" stroke="#777" stroke-width="1"/>
<rect x="129.50" y="495.10" width="18" height="2.6" rx="1.30" fill="#e2e2e2" filter="url(#b12)"/>
<rect x="152.00" y="495.60" width="18" height="2.6" rx="1.30" fill="#ececec" filter="url(#b12)"/>
<rect x="174.50" y="496.20" width="16" height="2.6" rx="1.30" fill="#f0f0f0" filter="url(#b12)"/>
<rect x="197.00" y="497.30" width="17" height="2.4" rx="1.20" fill="#e6e6e6" filter="url(#b12)"/>
<rect x="208.00" y="497.50" width="6" height="2.2" rx="1.10" fill="#ccc" filter="url(#b10)"/>
<rect x="219.70" y="495.00" width="18" height="5" rx="2.50" fill="#c8c8c8" filter="url(#b15)"/>
<rect x="220.20" y="496.70" width="17" height="3" rx="1.50" fill="#8a8a8a" filter="url(#b10)"/>
<rect x="241.95" y="494.50" width="18.5" height="6" rx="3.00" fill="#aaa" filter="url(#b15)"/>
<rect x="242.70" y="496.40" width="17" height="3.2" rx="1.60" fill="#444" filter="url(#b10)"/>
<rect x="127.70" y="521.10" width="20" height="4.2" rx="2.10" fill="#555" filter="url(#b10)"/>
<rect x="152.20" y="523.20" width="18" height="3.2" rx="1.60" fill="#8a8a8a" filter="url(#b10)"/>
<rect x="174.70" y="524.50" width="19" height="3.6" rx="1.80" fill="#666" filter="url(#b10)"/>
<rect x="198.20" y="525.40" width="16" height="2.8" rx="1.40" fill="#aaa" filter="url(#b10)"/>
<rect x="221.90" y="526.00" width="18" height="2.8" rx="1.40" fill="#b4b4b4" filter="url(#b10)"/>
<rect x="244.30" y="526.70" width="17" height="3" rx="1.50" fill="#999" filter="url(#b10)"/>
<rect x="127.50" y="546.10" width="18" height="2.4" rx="1.20" fill="#333" filter="url(#b8)"/>
<rect x="151.80" y="547.10" width="16" height="2.4" rx="1.20" fill="#444" filter="url(#b8)"/>
<rect x="174.00" y="546.70" width="17" height="2.2" rx="1.10" fill="#4a4a4a" filter="url(#b8)"/>
<rect x="197.00" y="546.30" width="16" height="2.6" rx="1.30" fill="#333" filter="url(#b8)"/>
<rect x="218.35" y="545.20" width="18.5" height="3.6" rx="1.80" fill="#000" filter="url(#b8)"/>
<rect x="228.00" y="544.50" width="9" height="4.2" rx="1.80" fill="#000" filter="url(#b8)"/>
<rect x="241.50" y="544.60" width="19" height="4" rx="2.00" fill="#000" filter="url(#b8)"/>
<rect x="251.00" y="544.30" width="9" height="4.6" rx="1.80" fill="#000" filter="url(#b8)"/>
<rect x="127.50" y="568.00" width="19" height="3" rx="1.50" fill="#000" filter="url(#b8)"/>
<rect x="150.75" y="568.00" width="18.5" height="3.6" rx="1.80" fill="#000" filter="url(#b8)"/>
<rect x="173.10" y="567.10" width="19" height="3" rx="1.50" fill="#000" filter="url(#b8)"/>
<rect x="196.45" y="567.10" width="17.5" height="3.4" rx="1.70" fill="#000" filter="url(#b8)"/>
<rect x="218.35" y="566.20" width="18.5" height="3.2" rx="1.60" fill="#000" filter="url(#b8)"/>
<rect x="240.90" y="564.40" width="19" height="3.2" rx="1.60" fill="#000" filter="url(#b8)"/>
<rect x="194.80" y="588.25" width="17" height="5.5" rx="2.75" fill="#c4c4c4" filter="url(#b15)"/>
<rect x="196.30" y="590.10" width="14" height="2.4" rx="1.20" fill="#9a9a9a" filter="url(#b10)"/>
<rect x="218.20" y="588.25" width="17" height="5.5" rx="2.75" fill="#c4c4c4" filter="url(#b15)"/>
<rect x="219.70" y="590.10" width="14" height="2.4" rx="1.20" fill="#9a9a9a" filter="url(#b10)"/>
<rect x="241.50" y="588.25" width="17" height="5.5" rx="2.75" fill="#c4c4c4" filter="url(#b15)"/>
<rect x="243.00" y="590.10" width="14" height="2.4" rx="1.20" fill="#9a9a9a" filter="url(#b10)"/>
<path d="M128 611.5 Q137 614.5 147.5 616.5" stroke="#555" stroke-width="2.2" fill="none" filter="url(#b8)"/>
<rect x="152.50" y="615.60" width="17" height="2.8" rx="1.40" fill="#333" filter="url(#b8)"/>
<rect x="175.00" y="616.30" width="17" height="2.4" rx="1.20" fill="#444" filter="url(#b8)"/>
<rect x="197.50" y="616.60" width="17" height="2.8" rx="1.40" fill="#333" filter="url(#b8)"/>
<rect x="222.00" y="616.30" width="16" height="2.4" rx="1.20" fill="#444" filter="url(#b8)"/>
<rect x="243.20" y="614.40" width="17" height="2.8" rx="1.40" fill="#333" filter="url(#b8)"/>
<line x1="264.5" y1="503.9" x2="274.5" y2="503.9" stroke="#666" stroke-width="1"/>
<text x="276.9" y="507.9" text-anchor="start" font-size="11.5" fill="#555">100</text>
<line x1="264.5" y1="533.4" x2="274.5" y2="533.4" stroke="#666" stroke-width="1"/>
<text x="276.9" y="537.4" text-anchor="start" font-size="11.5" fill="#555">100</text>
<line x1="264.5" y1="547.6" x2="274.5" y2="547.6" stroke="#666" stroke-width="1"/>
<text x="276.9" y="551.6" text-anchor="start" font-size="11.5" fill="#555">150</text>
<line x1="264.5" y1="566.9" x2="274.5" y2="566.9" stroke="#666" stroke-width="1"/>
<text x="276.9" y="570.9" text-anchor="start" font-size="11.5" fill="#555">150</text>
<line x1="264.5" y1="590" x2="274.5" y2="590" stroke="#666" stroke-width="1"/>
<text x="276.9" y="594" text-anchor="start" font-size="11.5" fill="#555">250</text>
<line x1="264.5" y1="624" x2="274.5" y2="624" stroke="#666" stroke-width="1"/>
<text x="276.9" y="628" text-anchor="start" font-size="11.5" fill="#555">37</text>
<text x="116.75" y="502" text-anchor="end" font-size="11.4" fill="#555">IB:pFAK</text>
<text x="117" y="527" text-anchor="end" font-size="11.4" fill="#555">FAK</text>
<text x="116" y="550" text-anchor="end" font-size="11.4" fill="#555">pPLC<tspan font-family="Liberation Serif">&#947;-1</tspan></text>
<text x="115.6" y="571.6" text-anchor="end" font-size="11.4" fill="#555">PLC<tspan font-family="Liberation Serif">&#947;-1</tspan></text>
<text x="117" y="594.4" text-anchor="end" font-size="11.4" fill="#555">V5</text>
<text x="116.4" y="620" text-anchor="end" font-size="11.4" fill="#555">&#946;-Actin</text>
<text x="346.5" y="430" text-anchor="start" font-size="21" font-weight="bold" fill="#000">i</text>
<text x="418" y="467.6" text-anchor="end" font-size="11.4" fill="#555">Light (min)</text>
<text x="417" y="485.5" text-anchor="end" font-size="11.4" fill="#555">Netrin-1</text>
<rect x="428.5" y="465.8" width="3.6" height="1.6" fill="#222"/>
<text x="452.6" y="467.6" text-anchor="middle" font-size="11" font-weight="bold" fill="#222">5</text>
<text x="475.8" y="467.6" text-anchor="middle" font-size="11" font-weight="bold" fill="#222">10</text>
<text x="499.1" y="467.6" text-anchor="middle" font-size="11" font-weight="bold" fill="#222">15</text>
<rect x="520.0" y="465.8" width="3.6" height="1.6" fill="#222"/>
<rect x="428.5" y="482.8" width="3.6" height="1.6" fill="#222"/>
<rect x="450.8" y="482.8" width="3.6" height="1.6" fill="#222"/>
<rect x="474.0" y="482.8" width="3.6" height="1.6" fill="#222"/>
<rect x="497.3" y="482.8" width="3.6" height="1.6" fill="#222"/>
<rect x="518.1999999999999" y="482.0" width="7.2" height="1.6" fill="#222"/>
<rect x="521.0" y="478.4" width="1.6" height="7.2" fill="#222"/>
<text x="546.5" y="486.2" text-anchor="start" font-size="11.4" fill="#555">kDa</text>
<rect x="419.5" y="493.5" width="113.0" height="19.0" fill="#f8f8f8" stroke="#777" stroke-width="1"/>
<rect x="419.5" y="517.5" width="113.0" height="19.0" fill="#f8f8f8" stroke="#777" stroke-width="1"/>
<rect x="419.5" y="541.5" width="113.0" height="20.0" fill="#f6f6f6" stroke="#777" stroke-width="1"/>
<rect x="419.5" y="567.5" width="113.0" height="19.0" fill="#f8f8f8" stroke="#777" stroke-width="1"/>
<rect x="423.00" y="501.30" width="16" height="2.4" rx="1.20" fill="#ececec" filter="url(#b12)"/>
<rect x="445.00" y="501.30" width="16" height="2.4" rx="1.20" fill="#eeeeee" filter="url(#b12)"/>
<rect x="467.00" y="501.60" width="16" height="2.4" rx="1.20" fill="#e0e0e0" filter="url(#b12)"/>
<rect x="490.00" y="501.00" width="16" height="3.2" rx="1.60" fill="#3a3a3a" filter="url(#b10)"/>
<rect x="501.00" y="501.10" width="5" height="3" rx="1.50" fill="#111" filter="url(#b8)"/>
<rect x="511.40" y="500.20" width="18" height="4.2" rx="2.10" fill="#0a0a0a" filter="url(#b9)"/>
<rect x="522.00" y="499.70" width="7" height="4.8" rx="2.40" fill="#000" filter="url(#b8)"/>
<rect x="425.80" y="525.90" width="16" height="2.8" rx="1.40" fill="#222" filter="url(#b8)"/>
<rect x="446.75" y="525.80" width="16.5" height="3.4" rx="1.70" fill="#000" filter="url(#b8)"/>
<rect x="468.60" y="526.60" width="16" height="2.4" rx="1.20" fill="#555" filter="url(#b8)"/>
<rect x="490.00" y="525.90" width="16" height="2.8" rx="1.40" fill="#222" filter="url(#b8)"/>
<rect x="512.00" y="526.10" width="16" height="2.4" rx="1.20" fill="#999" filter="url(#b10)"/>
<rect x="423.00" y="550.70" width="16" height="2.4" rx="1.20" fill="#666" filter="url(#b10)"/>
<rect x="443.60" y="550.60" width="16" height="2" rx="1.00" fill="#999" filter="url(#b10)"/>
<rect x="456.50" y="550.50" width="3" height="2.2" rx="1.10" fill="#555" filter="url(#b8)"/>
<rect x="465.00" y="549.90" width="16" height="2.2" rx="1.10" fill="#888" filter="url(#b10)"/>
<rect x="478.50" y="549.60" width="3" height="2.4" rx="1.20" fill="#444" filter="url(#b8)"/>
<rect x="486.40" y="549.10" width="16" height="2.2" rx="1.10" fill="#888" filter="url(#b10)"/>
<rect x="486.00" y="548.60" width="3" height="2.4" rx="1.20" fill="#444" filter="url(#b8)"/>
<rect x="508.00" y="549.60" width="20" height="2" rx="1.00" fill="#aaa" filter="url(#b10)"/>
<rect x="525.50" y="549.70" width="3" height="2.2" rx="1.10" fill="#555" filter="url(#b8)"/>
<path d="M422 578.4 L440 578.2 M442 578.2 L460 577.6 M463 577 L482 576 M486 575.6 L504 574.5 M509 573.9 L529 573" stroke="#333" stroke-width="2.2" fill="none" filter="url(#b8)"/>
<rect x="444.00" y="576.60" width="14" height="2.6" rx="1.30" fill="#111" filter="url(#b8)"/>
<rect x="493.50" y="573.80" width="9" height="2.4" rx="1.20" fill="#111" filter="url(#b8)"/>
<rect x="512.50" y="572.10" width="15" height="2.6" rx="1.30" fill="#111" filter="url(#b8)"/>
<line x1="532.7" y1="508.7" x2="544.7" y2="508.7" stroke="#666" stroke-width="1"/>
<text x="546.5" y="512.7" text-anchor="start" font-size="11.5" fill="#555">100</text>
<line x1="532.7" y1="533.3" x2="544.7" y2="533.3" stroke="#666" stroke-width="1"/>
<text x="546.5" y="537.3" text-anchor="start" font-size="11.5" fill="#555">100</text>
<line x1="532.7" y1="549.5" x2="544.7" y2="549.5" stroke="#666" stroke-width="1"/>
<text x="546.5" y="553.5" text-anchor="start" font-size="11.5" fill="#555">250</text>
<line x1="532.7" y1="583.3" x2="544.7" y2="583.3" stroke="#666" stroke-width="1"/>
<text x="546.5" y="587.3" text-anchor="start" font-size="11.5" fill="#555">37</text>
<text x="413.9" y="505.3" text-anchor="end" font-size="11.4" fill="#555">IB:pFAK</text>
<text x="413" y="532" text-anchor="end" font-size="11.4" fill="#555">FAK</text>
<text x="413" y="554.7" text-anchor="end" font-size="11.4" fill="#555">V5</text>
<text x="413" y="581.8" text-anchor="end" font-size="11.4" fill="#555">&#946;-Actin</text>
<text x="570" y="428" text-anchor="start" font-size="21" font-weight="bold" fill="#000">j</text>
<line x1="618.3" y1="467.2" x2="618.3" y2="589.3" stroke="#444" stroke-width="1.3"/>
<line x1="614.3" y1="589.3" x2="680" y2="589.3" stroke="#333" stroke-width="1.3"/>
<line x1="614.8" y1="467.2" x2="618.3" y2="467.2" stroke="#444" stroke-width="1"/>
<text x="612.3" y="469.7" text-anchor="end" font-size="7" fill="#7a7a7a" letter-spacing="0.6">10</text>
<line x1="614.8" y1="491.6" x2="618.3" y2="491.6" stroke="#444" stroke-width="1"/>
<text x="612.3" y="494.1" text-anchor="end" font-size="7" fill="#7a7a7a" letter-spacing="0.6">8</text>
<line x1="614.8" y1="515.9" x2="618.3" y2="515.9" stroke="#444" stroke-width="1"/>
<text x="612.3" y="518.4" text-anchor="end" font-size="7" fill="#7a7a7a" letter-spacing="0.6">6</text>
<line x1="614.8" y1="540.6" x2="618.3" y2="540.6" stroke="#444" stroke-width="1"/>
<text x="612.3" y="543.1" text-anchor="end" font-size="7" fill="#7a7a7a" letter-spacing="0.6">4</text>
<line x1="614.8" y1="564.8" x2="618.3" y2="564.8" stroke="#444" stroke-width="1"/>
<text x="612.3" y="567.3" text-anchor="end" font-size="7" fill="#7a7a7a" letter-spacing="0.6">2</text>
<line x1="614.8" y1="589.3" x2="618.3" y2="589.3" stroke="#444" stroke-width="1"/>
<text x="612.3" y="591.8" text-anchor="end" font-size="7" fill="#7a7a7a" letter-spacing="0.6">0</text>
<line x1="629.2" y1="589.3" x2="629.2" y2="592.8" stroke="#333" stroke-width="1"/>
<text x="629.5" y="603.3" text-anchor="middle" font-size="7" fill="#7a7a7a" letter-spacing="0.6">5</text>
<line x1="649.5" y1="589.3" x2="649.5" y2="592.8" stroke="#333" stroke-width="1"/>
<text x="649.8" y="603.3" text-anchor="middle" font-size="7" fill="#7a7a7a" letter-spacing="0.6">10</text>
<line x1="669.6" y1="589.3" x2="669.6" y2="592.8" stroke="#333" stroke-width="1"/>
<text x="669.9" y="603.3" text-anchor="middle" font-size="7" fill="#7a7a7a" letter-spacing="0.6">15</text>
<text x="598" y="529" text-anchor="middle" font-size="9.8" fill="#666" transform="rotate(-90 598 529)">pFAK / FAK</text>
<text x="647.5" y="617" text-anchor="middle" font-size="9.8" fill="#666">Pulse numbers</text>
<line x1="629.2" y1="574" x2="629.2" y2="577.5" stroke="#222" stroke-width="1.4"/>
<line x1="626.2" y1="574" x2="632.2" y2="574" stroke="#222" stroke-width="1.4"/>
<line x1="626.2" y1="577.5" x2="632.2" y2="577.5" stroke="#222" stroke-width="1.4"/>
<circle cx="626.6" cy="571.8" r="1.9" fill="#111"/>
<circle cx="626.6" cy="580" r="1.9" fill="#111"/>
<circle cx="634.8000000000001" cy="574.4" r="1.9" fill="#111"/>
<circle cx="631.2" cy="576.5" r="1.9" fill="#111"/>
<line x1="622.7" y1="575.8" x2="635.7" y2="575.8" stroke="#888" stroke-width="1.4"/>
<line x1="649.5" y1="556.8" x2="649.5" y2="562.5" stroke="#222" stroke-width="1.4"/>
<line x1="646.5" y1="556.8" x2="652.5" y2="556.8" stroke="#222" stroke-width="1.4"/>
<line x1="646.5" y1="562.5" x2="652.5" y2="562.5" stroke="#222" stroke-width="1.4"/>
<circle cx="645.7" cy="555.8" r="1.9" fill="#111"/>
<circle cx="653.6" cy="555.2" r="1.9" fill="#111"/>
<circle cx="649.7" cy="568.5" r="1.9" fill="#111"/>
<circle cx="650.0" cy="558.2" r="1.9" fill="#111"/>
<line x1="643.0" y1="559.4" x2="656.0" y2="559.4" stroke="#222" stroke-width="1.4"/>
<line x1="669.6" y1="527" x2="669.6" y2="555.2" stroke="#333" stroke-width="1.4"/>
<line x1="666.6" y1="527" x2="672.6" y2="527" stroke="#333" stroke-width="1.4"/>
<line x1="666.6" y1="555.2" x2="672.6" y2="555.2" stroke="#333" stroke-width="1.4"/>
<circle cx="669.6" cy="495.5" r="1.9" fill="#111"/>
<circle cx="670.0" cy="555.2" r="1.9" fill="#111"/>
<circle cx="667.0" cy="561.3" r="1.9" fill="#111"/>
<circle cx="672.4" cy="559.7" r="1.9" fill="#111"/>
<line x1="663.1" y1="543" x2="676.1" y2="543" stroke="#999" stroke-width="1.4"/>
<text x="1.2" y="670" text-anchor="start" font-size="21" font-weight="bold" fill="#000">k</text>
<line x1="97.5" y1="680" x2="97.5" y2="812.5" stroke="#555" stroke-width="1"/>
<line x1="97.5" y1="812.5" x2="270" y2="812.5" stroke="#555" stroke-width="1"/>
<line x1="93.0" y1="812.5" x2="97.5" y2="812.5" stroke="#555" stroke-width="1"/>
<text x="88.9" y="815.9" text-anchor="end" font-size="9.5" fill="#555">0</text>
<line x1="93.0" y1="799.345" x2="97.5" y2="799.345" stroke="#555" stroke-width="1"/>
<text x="88.9" y="802.745" text-anchor="end" font-size="9.5" fill="#555">10</text>
<line x1="93.0" y1="786.19" x2="97.5" y2="786.19" stroke="#555" stroke-width="1"/>
<text x="88.9" y="789.59" text-anchor="end" font-size="9.5" fill="#555">20</text>
<line x1="93.0" y1="773.035" x2="97.5" y2="773.035" stroke="#555" stroke-width="1"/>
<text x="88.9" y="776.435" text-anchor="end" font-size="9.5" fill="#555">30</text>
<line x1="93.0" y1="759.88" x2="97.5" y2="759.88" stroke="#555" stroke-width="1"/>
<text x="88.9" y="763.28" text-anchor="end" font-size="9.5" fill="#555">40</text>
<line x1="93.0" y1="746.725" x2="97.5" y2="746.725" stroke="#555" stroke-width="1"/>
<text x="88.9" y="750.125" text-anchor="end" font-size="9.5" fill="#555">50</text>
<line x1="93.0" y1="733.57" x2="97.5" y2="733.57" stroke="#555" stroke-width="1"/>
<text x="88.9" y="736.97" text-anchor="end" font-size="9.5" fill="#555">60</text>
<line x1="93.0" y1="720.415" x2="97.5" y2="720.415" stroke="#555" stroke-width="1"/>
<text x="88.9" y="723.8149999999999" text-anchor="end" font-size="9.5" fill="#555">70</text>
<line x1="93.0" y1="707.26" x2="97.5" y2="707.26" stroke="#555" stroke-width="1"/>
<text x="88.9" y="710.66" text-anchor="end" font-size="9.5" fill="#555">80</text>
<line x1="93.0" y1="694.105" x2="97.5" y2="694.105" stroke="#555" stroke-width="1"/>
<text x="88.9" y="697.505" text-anchor="end" font-size="9.5" fill="#555">90</text>
<line x1="93.0" y1="680.95" x2="97.5" y2="680.95" stroke="#555" stroke-width="1"/>
<text x="88.9" y="684.35" text-anchor="end" font-size="9.5" fill="#555">100</text>
<line x1="97.5" y1="812.5" x2="97.5" y2="816.0" stroke="#555" stroke-width="1"/>
<text x="97.5" y="827.8" text-anchor="middle" font-size="9.7" fill="#555">0</text>
<line x1="183.75" y1="812.5" x2="183.75" y2="816.0" stroke="#555" stroke-width="1"/>
<text x="183.75" y="827.8" text-anchor="middle" font-size="9.7" fill="#555">5</text>
<line x1="270.0" y1="812.5" x2="270.0" y2="816.0" stroke="#555" stroke-width="1"/>
<text x="270.0" y="827.8" text-anchor="middle" font-size="9.7" fill="#555">10</text>
<text x="70.5" y="749.5" text-anchor="middle" font-size="9.8" fill="#555" transform="rotate(-90 70.5 749.5)">Oligomerization&#160;&#160;level (%)</text>
<text x="186" y="841.6" text-anchor="middle" font-size="9.7" fill="#555">Time post illumination (min)</text>
<line x1="114.75" y1="732.2545" x2="114.75" y2="698.97235" stroke="#aaa" stroke-width="1.1"/>
<line x1="112.25" y1="732.2545" x2="117.25" y2="732.2545" stroke="#aaa" stroke-width="1.1"/>
<line x1="112.25" y1="698.97235" x2="117.25" y2="698.97235" stroke="#aaa" stroke-width="1.1"/>
<line x1="132.0" y1="768.2992" x2="132.0" y2="711.4696" stroke="#aaa" stroke-width="1.1"/>
<line x1="129.5" y1="768.2992" x2="134.5" y2="768.2992" stroke="#aaa" stroke-width="1.1"/>
<line x1="129.5" y1="711.4696" x2="134.5" y2="711.4696" stroke="#aaa" stroke-width="1.1"/>
<line x1="183.75" y1="799.8712" x2="183.75" y2="783.16435" stroke="#aaa" stroke-width="1.1"/>
<line x1="181.25" y1="799.8712" x2="186.25" y2="799.8712" stroke="#aaa" stroke-width="1.1"/>
<line x1="181.25" y1="783.16435" x2="186.25" y2="783.16435" stroke="#aaa" stroke-width="1.1"/>
<line x1="270.0" y1="806.58025" x2="270.0" y2="801.31825" stroke="#aaa" stroke-width="1.1"/>
<line x1="267.5" y1="806.58025" x2="272.5" y2="806.58025" stroke="#aaa" stroke-width="1.1"/>
<line x1="267.5" y1="801.31825" x2="272.5" y2="801.31825" stroke="#aaa" stroke-width="1.1"/>
<polyline points="97.5,681.0 114.8,715.2 132.0,740.1 183.8,791.5 270.0,803.9" fill="none" stroke="#222" stroke-width="1.2"/>
<circle cx="97.5" cy="681.0" r="2.9" fill="#000"/>
<circle cx="114.8" cy="715.2" r="2.9" fill="#000"/>
<circle cx="132.0" cy="740.1" r="2.9" fill="#000"/>
<circle cx="183.8" cy="791.5" r="2.9" fill="#000"/>
<circle cx="270.0" cy="803.9" r="2.9" fill="#000"/>
<text x="346.5" y="669.6" text-anchor="start" font-size="21" font-weight="bold" fill="#000">l</text>
<line x1="456.7" y1="680.5" x2="456.7" y2="812.5" stroke="#555" stroke-width="1"/>
<line x1="456.7" y1="812.5" x2="608.6" y2="812.5" stroke="#555" stroke-width="1"/>
<line x1="452.7" y1="812.5" x2="456.7" y2="812.5" stroke="#555" stroke-width="1"/>
<text x="448.5" y="815.9" text-anchor="end" font-size="9.7" fill="#555">0</text>
<line x1="452.7" y1="790.7" x2="456.7" y2="790.7" stroke="#555" stroke-width="1"/>
<text x="448.5" y="794.1" text-anchor="end" font-size="9.7" fill="#555">0.5</text>
<line x1="452.7" y1="768.9" x2="456.7" y2="768.9" stroke="#555" stroke-width="1"/>
<text x="448.5" y="772.3" text-anchor="end" font-size="9.7" fill="#555">1</text>
<line x1="452.7" y1="747.1" x2="456.7" y2="747.1" stroke="#555" stroke-width="1"/>
<text x="448.5" y="750.5" text-anchor="end" font-size="9.7" fill="#555">1.5</text>
<line x1="452.7" y1="725.3" x2="456.7" y2="725.3" stroke="#555" stroke-width="1"/>
<text x="448.5" y="728.6999999999999" text-anchor="end" font-size="9.7" fill="#555">2</text>
<line x1="452.7" y1="703.5" x2="456.7" y2="703.5" stroke="#555" stroke-width="1"/>
<text x="448.5" y="706.9" text-anchor="end" font-size="9.7" fill="#555">2.5</text>
<line x1="452.7" y1="681.7" x2="456.7" y2="681.7" stroke="#555" stroke-width="1"/>
<text x="448.5" y="685.1" text-anchor="end" font-size="9.7" fill="#555">3</text>
<line x1="456.7" y1="812.5" x2="456.7" y2="816.0" stroke="#555" stroke-width="1"/>
<text x="456.7" y="826.9" text-anchor="middle" font-size="9.7" fill="#555">0</text>
<line x1="532.15" y1="812.5" x2="532.15" y2="816.0" stroke="#555" stroke-width="1"/>
<text x="532.15" y="826.9" text-anchor="middle" font-size="9.7" fill="#555">5</text>
<line x1="607.6" y1="812.5" x2="607.6" y2="816.0" stroke="#555" stroke-width="1"/>
<text x="607.6" y="826.9" text-anchor="middle" font-size="9.7" fill="#555">10</text>
<text x="428.5" y="751.2" text-anchor="middle" font-size="9.7" fill="#555" transform="rotate(-90 428.5 751.2)">pFAK / FAK</text>
<text x="539" y="841.6" text-anchor="middle" font-size="9.7" fill="#555">Time post illumination (min)</text>
<line x1="456.7" y1="740.996" x2="456.7" y2="729.66" stroke="#aaa" stroke-width="1.2"/>
<line x1="454.2" y1="740.996" x2="459.2" y2="740.996" stroke="#aaa" stroke-width="1.2"/>
<line x1="454.2" y1="729.66" x2="459.2" y2="729.66" stroke="#aaa" stroke-width="1.2"/>
<line x1="471.78999999999996" y1="741.8679999999999" x2="471.78999999999996" y2="691.728" stroke="#aaa" stroke-width="1.2"/>
<line x1="469.28999999999996" y1="741.8679999999999" x2="474.28999999999996" y2="741.8679999999999" stroke="#aaa" stroke-width="1.2"/>
<line x1="469.28999999999996" y1="691.728" x2="474.28999999999996" y2="691.728" stroke="#aaa" stroke-width="1.2"/>
<line x1="486.88" y1="752.332" x2="486.88" y2="739.252" stroke="#aaa" stroke-width="1.2"/>
<line x1="484.38" y1="752.332" x2="489.38" y2="752.332" stroke="#aaa" stroke-width="1.2"/>
<line x1="484.38" y1="739.252" x2="489.38" y2="739.252" stroke="#aaa" stroke-width="1.2"/>
<line x1="501.97" y1="786.34" x2="501.97" y2="734.02" stroke="#aaa" stroke-width="1.2"/>
<line x1="499.47" y1="786.34" x2="504.47" y2="786.34" stroke="#aaa" stroke-width="1.2"/>
<line x1="499.47" y1="734.02" x2="504.47" y2="734.02" stroke="#aaa" stroke-width="1.2"/>
<line x1="532.15" y1="789.392" x2="532.15" y2="763.668" stroke="#aaa" stroke-width="1.2"/>
<line x1="529.65" y1="789.392" x2="534.65" y2="789.392" stroke="#aaa" stroke-width="1.2"/>
<line x1="529.65" y1="763.668" x2="534.65" y2="763.668" stroke="#aaa" stroke-width="1.2"/>
<line x1="607.6" y1="792.008" x2="607.6" y2="759.744" stroke="#aaa" stroke-width="1.2"/>
<line x1="605.1" y1="792.008" x2="610.1" y2="792.008" stroke="#aaa" stroke-width="1.2"/>
<line x1="605.1" y1="759.744" x2="610.1" y2="759.744" stroke="#aaa" stroke-width="1.2"/>
<polyline points="456.7,734.0 471.8,716.1 486.9,746.2 502.0,760.2 532.1,776.7 607.6,775.9" fill="none" stroke="#222" stroke-width="1.2"/>
<circle cx="456.7" cy="734.0" r="2.9" fill="#000"/>
<circle cx="471.8" cy="716.1" r="2.9" fill="#000"/>
<circle cx="486.9" cy="746.2" r="2.9" fill="#000"/>
<circle cx="502.0" cy="760.2" r="2.9" fill="#000"/>
<circle cx="532.1" cy="776.7" r="2.9" fill="#000"/>
<circle cx="607.6" cy="775.9" r="2.9" fill="#000"/>
</svg></body></html>
